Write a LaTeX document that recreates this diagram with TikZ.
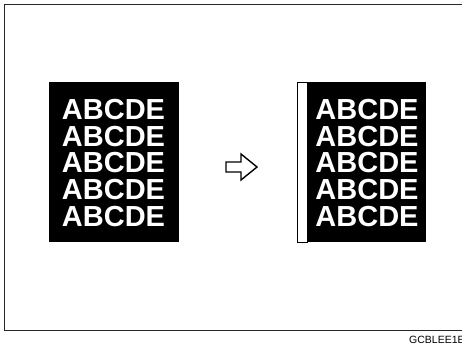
\documentclass[tikz,border=0pt]{standalone}
\usepackage{fontspec}
\setmainfont{Liberation Sans}
\begin{document}
\begin{tikzpicture}[x=1pt,y=-1pt,
  page/.style={fill=black,draw=none},
  txt/.style={text=white,font=\fontsize{29}{29}\selectfont\bfseries,anchor=base,inner sep=0pt},
  strip/.style={fill=white,draw=black,line width=0.9pt}]
\useasboundingbox (0,0) rectangle (462,345);
\clip (0,0) rectangle (462,345);
\draw[line width=1pt,draw=black!85] (4.5,5) rectangle (470,330);
% left page
\path[page] (48.5,82) rectangle (178.5,242);
\foreach \i/\yy in {1/119.2,2/146,3/172.8,4/199.6,5/226.4}{
  \node[txt] (l\i) at (113.5,\yy) {ABCDE};
}
% arrow
\draw[line width=1.4pt,line join=miter] (226,162)--(241,162)--(241,154)--(257,167)--(241,180)--(241,172)--(226,172)--cycle;
% right page
\path[strip] (297,82) rectangle (307.5,242);
\path[page] (307.5,82) rectangle (426,242);
\foreach \i/\yy in {1/119.2,2/146,3/172.8,4/199.6,5/226.4}{
  \node[txt] (r\i) at (367,\yy) {ABCDE};
}
\node[anchor=base west,inner sep=0pt,font=\fontsize{10.5}{10.5}\selectfont] (lab) at (409,343.5) {GCBLEE1E};
\end{tikzpicture}
\end{document}
